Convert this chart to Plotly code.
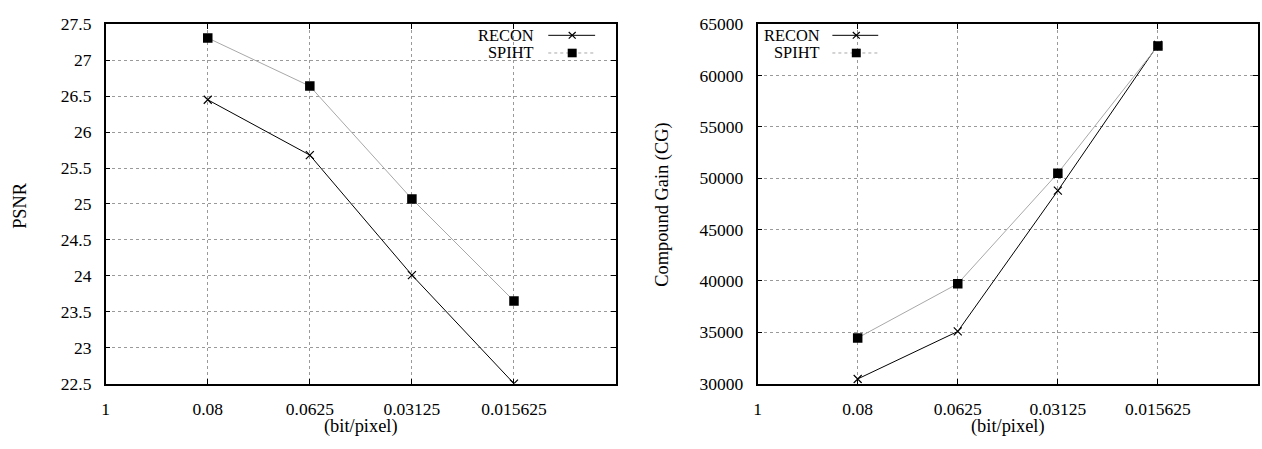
import plotly.graph_objects as go

W, H = 1262, 449

# ---- data ----
bpp_labels = ["1", "0.08", "0.0625", "0.03125", "0.015625"]
bpp = ["0.08", "0.0625", "0.03125", "0.015625"]
psnr_recon = [26.45, 25.68, 24.01, 22.50]
psnr_spiht = [27.31, 26.64, 25.07, 23.65]
cg_recon = [30450, 35080, 48800, 63000]
cg_spiht = [34450, 39730, 50500, 62900]
psnr_ticks = [22.5, 23, 23.5, 24, 24.5, 25, 25.5, 26, 26.5, 27, 27.5]
psnr_ticktext = ["22.5", "23", "23.5", "24", "24.5", "25", "25.5", "26", "26.5", "27", "27.5"]
cg_ticks = [30000, 35000, 40000, 45000, 50000, 55000, 60000, 65000]

FONT = "Liberation Serif"
FS = 17.5
FT = 18.4
FL = 16.4


def px(x):
    return x / W


def py(y):
    return 1 - y / H


fig = go.Figure()

recon_style = dict(mode="lines+markers", line=dict(color="black", width=1),
                   marker=dict(symbol="x-thin-open", size=8, color="black",
                               line=dict(color="black", width=1.2)))
spiht_style = dict(mode="lines+markers", line=dict(color="#a8a8a8", width=1),
                   marker=dict(symbol="square", size=9.5, color="black"))

fig.add_trace(go.Scatter(x=bpp, y=psnr_recon, name="RECON", xaxis="x", yaxis="y", **recon_style))
fig.add_trace(go.Scatter(x=bpp, y=psnr_spiht, name="SPIHT", xaxis="x", yaxis="y", **spiht_style))
fig.add_trace(go.Scatter(x=bpp, y=cg_recon, name="RECON", xaxis="x2", yaxis="y2", **recon_style))
fig.add_trace(go.Scatter(x=bpp, y=cg_spiht, name="SPIHT", xaxis="x2", yaxis="y2", **spiht_style))

ydom = [py(391), py(15)]
common_x = dict(type="category", categoryorder="array", categoryarray=bpp_labels,
                range=[0, 5], tickmode="array", tickvals=bpp_labels, ticktext=bpp_labels,
                showgrid=True, gridcolor="#9a9a9a", griddash="dot", gridwidth=1,
                showline=True, linecolor="black", linewidth=1.6, mirror="ticks",
                ticks="inside", ticklen=5, tickcolor="black", ticklabelstandoff=9,
                tickfont=dict(family=FONT, size=FS, color="black"), zeroline=False)
common_y = dict(showgrid=True, gridcolor="#9a9a9a", griddash="dot", gridwidth=1,
                showline=True, linecolor="black", linewidth=1.6, mirror="ticks",
                ticks="inside", ticklen=5, tickcolor="black", ticklabelstandoff=9,
                tickfont=dict(family=FONT, size=FS, color="black"), zeroline=False)

fig.update_layout(
    width=W, height=H, margin=dict(l=0, r=0, t=0, b=0),
    paper_bgcolor="white", plot_bgcolor="white", showlegend=False,
    font=dict(family=FONT, size=FS, color="black"),
    xaxis=dict(domain=[px(102), px(614)], anchor="y", **common_x),
    yaxis=dict(domain=ydom, anchor="x", range=[22.5, 27.5], tickvals=psnr_ticks,
               ticktext=psnr_ticktext, **common_y),
    xaxis2=dict(domain=[px(756), px(1258)], anchor="y2", **common_x),
    yaxis2=dict(domain=ydom, anchor="x2", range=[30000, 65000], tickvals=cg_ticks,
                ticktext=[str(v) for v in cg_ticks], **common_y),
)

# axis titles
ann = [
    dict(text="PSNR", x=px(16), y=py(204), textangle=-90),
    dict(text="Compound Gain (CG)", x=px(661), y=py(204), textangle=-90),
    dict(text="(bit/pixel)", x=px(358), y=py(436)),
    dict(text="(bit/pixel)", x=px(1007), y=py(436)),
]
for a in ann:
    fig.add_annotation(xref="paper", yref="paper", showarrow=False,
                       xanchor="center", yanchor="middle", borderpad=0,
                       font=dict(family=FONT, size=FT, color="black"), **a)

# custom gnuplot-style legends (text, then sample)
shapes = []
for text_right, l0, l1, mx in [(533, 546, 593, 570), (820, 831, 877, 855)]:
    for name, yy, col, dash in [("RECON", 26.5, "black", "solid"), ("SPIHT", 45, "#a8a8a8", "dot")]:
        fig.add_annotation(xref="paper", yref="paper", showarrow=False,
                           x=px(text_right), y=py(yy), xanchor="right", yanchor="middle",
                           borderpad=0,
                           text=name, font=dict(family=FONT, size=FL, color="black"))
        shapes.append(dict(type="line", xref="paper", yref="paper",
                           x0=px(l0), x1=px(l1), y0=py(yy), y1=py(yy),
                           line=dict(color=col, width=1, dash=dash)))
        if name == "RECON":
            d = 3.5
            shapes.append(dict(type="line", xref="paper", yref="paper",
                               x0=px(mx - d), x1=px(mx + d), y0=py(yy - d), y1=py(yy + d),
                               line=dict(color="black", width=1.2)))
            shapes.append(dict(type="line", xref="paper", yref="paper",
                               x0=px(mx - d), x1=px(mx + d), y0=py(yy + d), y1=py(yy - d),
                               line=dict(color="black", width=1.2)))
        else:
            d = 4.5
            shapes.append(dict(type="rect", xref="paper", yref="paper",
                               x0=px(mx - d), x1=px(mx + d), y0=py(yy - d), y1=py(yy + d),
                               fillcolor="black", line=dict(width=0)))
fig.update_layout(shapes=shapes)

fig.write_html("out.html")
